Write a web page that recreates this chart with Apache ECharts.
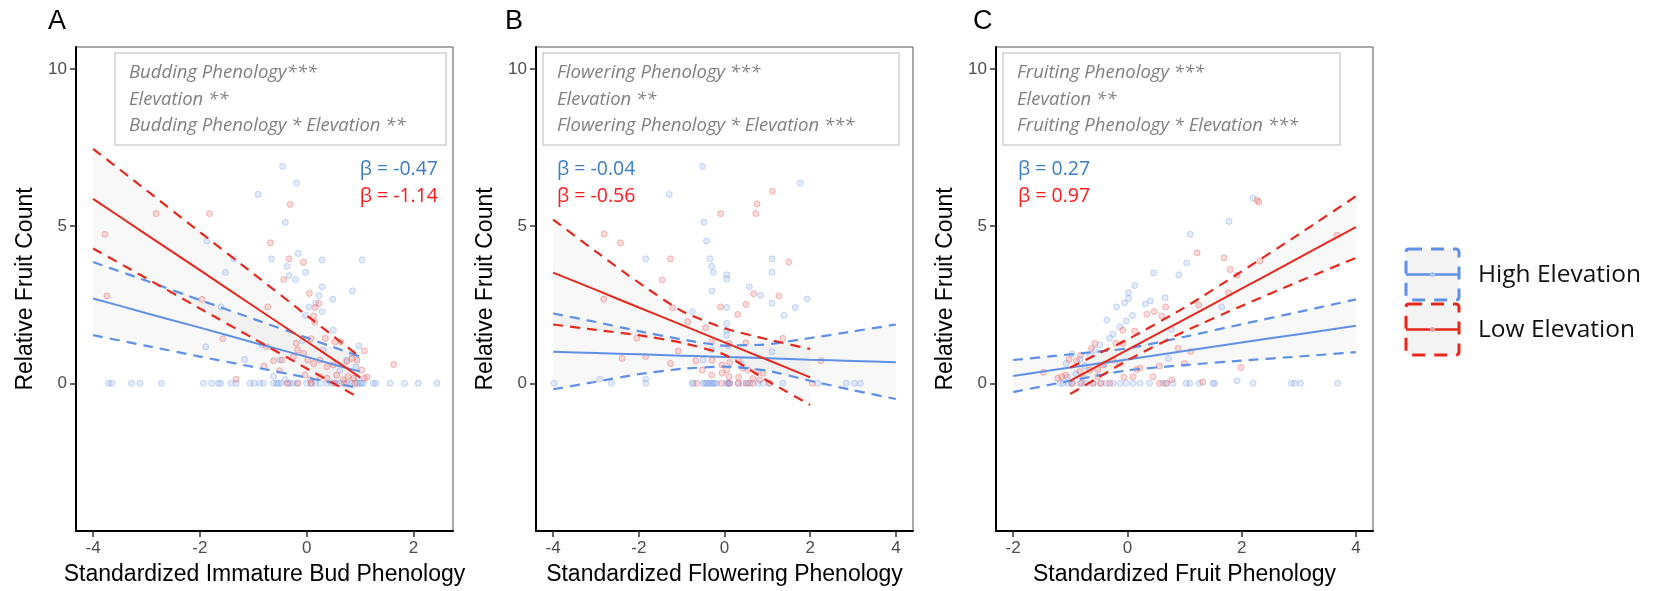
<!DOCTYPE html>
<html><head><meta charset="utf-8">
<script src="https://cdn.jsdelivr.net/npm/echarts@6/dist/echarts.min.js"></script>
<style>html,body{margin:0;padding:0;background:#fff}#c{width:1654px;height:591px}</style>
</head><body><div id="c"></div>
<script>
// ---------------- DATA ----------------
const panelLetters = ['A', 'B', 'C'];
const xTitles = ['Standardized Immature Bud Phenology', 'Standardized Flowering Phenology', 'Standardized Fruit Phenology'];
const yTitle = 'Relative Fruit Count';
const xTicksA = [-4, -2, 0, 2];
const xTicksB = [-4, -2, 0, 2, 4];
const xTicksC = [-2, 0, 2, 4];
const yTicks = [0, 5, 10];
const annA = ['Budding Phenology***', 'Elevation **', 'Budding Phenology * Elevation **'];
const annB = ['Flowering Phenology ***', 'Elevation **', 'Flowering Phenology * Elevation ***'];
const annC = ['Fruiting Phenology ***', 'Elevation **', 'Fruiting Phenology * Elevation ***'];
const betaHigh = ['β = -0.47', 'β = -0.04', 'β = 0.27'];
const betaLow = ['β = -1.14', 'β = -0.56', 'β = 0.97'];
const legendNames = ['High Elevation', 'Low Elevation'];

// Panel A fitted lines + confidence limits
const aX = [-4, -3, -2, -1, 0, 0.5, 1];
const aHighFit = [2.70, 2.23, 1.77, 1.30, 0.84, 0.60, 0.37];
const aHighUp = [3.86, 3.26, 2.65, 2.05, 1.45, 1.15, 0.85];
const aHighLo = [1.53, 1.19, 0.85, 0.52, 0.18, 0.01, -0.16];
const aLowFit = [5.87, 4.73, 3.60, 2.46, 1.33, 0.76, 0.19];
const aLowUp = [7.46, 6.14, 4.81, 3.49, 2.16, 1.50, 0.84];
const aLowLo = [4.29, 3.34, 2.38, 1.43, 0.47, 0.00, -0.48];
// Panel B
const bHighX = [-4, -3, -2, -1, 0, 1, 2, 3, 4];
const bHighFit = [1.00, 0.96, 0.92, 0.88, 0.84, 0.80, 0.75, 0.71, 0.67];
const bHighUp = [2.22, 1.95, 1.66, 1.40, 1.20, 1.24, 1.44, 1.65, 1.87];
const bHighLo = [-0.19, 0.05, 0.29, 0.46, 0.53, 0.40, 0.08, -0.22, -0.50];
const bLowX = [-4, -3, -2, -1, 0, 1, 2];
const bLowFit = [3.52, 2.97, 2.41, 1.86, 1.30, 0.75, 0.19];
const bLowUp = [5.21, 4.19, 3.20, 2.30, 1.75, 1.40, 1.09];
const bLowLo = [1.87, 1.70, 1.53, 1.29, 0.91, 0.08, -0.69];
// Panel C
const cHighX = [-2, -1, 0, 1, 2, 3, 4];
const cHighFit = [0.23, 0.50, 0.76, 1.03, 1.30, 1.56, 1.83];
const cHighUp = [0.74, 0.92, 1.11, 1.48, 1.88, 2.27, 2.67];
const cHighLo = [-0.28, 0.08, 0.41, 0.58, 0.72, 0.85, 0.99];
const cLowX = [-1, -0.5, 0, 1, 2, 3, 4];
const cLowFit = [0.08, 0.57, 1.06, 2.03, 3.01, 3.99, 4.97];
const cLowUp = [0.50, 0.95, 1.39, 2.41, 3.56, 4.74, 5.95];
const cLowLo = [-0.34, 0.19, 0.73, 1.65, 2.46, 3.24, 3.99];

// Scatter points [x, y]
const aHighPts = [[-0.45,6.90],[-0.19,6.37],[-0.91,6.01],[-0.40,5.12],[-1.87,4.53],[-1.36,3.96],[-0.66,3.96],[-0.16,4.13],[0.29,3.93],[1.04,3.93],[-0.37,3.72],[-1.52,3.53],[-0.33,3.43],[-0.02,3.53],[-0.21,3.30],[0.29,3.07],[0.86,2.94],[0.23,2.79],[0.49,2.67],[0.17,2.54],[0.04,2.43],[-1.60,2.43],[0.29,2.28],[-0.02,2.16],[-1.89,1.16],[-1.16,0.76],[-0.84,1.22],[-0.50,0.74],[-0.08,1.35],[0.31,1.06],[0.75,0.74],[0.98,1.19],[0.50,1.69],[0.85,0.95],[0.92,0.52],[0.62,0.40],[0.96,0.18],[-0.62,0.22],[-0.40,0.12],
  [-3.71,0],[-3.65,0],[-3.28,0],[-3.12,0],[-2.72,0],[-1.93,0],[-1.78,0],[-1.65,0],[-1.61,0],[-1.42,0],[-1.32,0],[-1.06,0],[-0.98,0],[-0.88,0],[-0.81,0],[-0.62,0],[-0.56,0],[-0.53,0],[-0.48,0],[-0.36,0],[-0.31,0],[-0.25,0],[-0.17,0],[0.0,0],[0.09,0],[0.16,0],[0.25,0],[0.38,0],[0.47,0],[0.56,0],[0.63,0],[0.75,0],[0.84,0],[0.94,0],[1.0,0],[1.03,0],[1.06,0],[1.25,0],[1.29,0],[1.56,0],[1.83,0],[2.09,0],[2.44,0]];
const aLowPts = [[-0.31,5.69],[-1.82,5.40],[-2.82,5.40],[-3.78,4.74],[-0.68,4.47],[-0.33,3.96],[-0.06,3.85],[-0.43,3.30],[-3.74,2.78],[0.05,2.86],[-1.96,2.67],[0.23,2.54],[0.16,2.41],[0.13,2.14],[0.15,1.95],[-0.73,2.43],[-1.57,1.42],[0.08,1.42],[0.35,1.43],[0.53,1.32],[0.64,1.32],[-0.75,1.16],[-0.20,1.27],[-0.17,1.06],[-0.06,0.95],[-0.46,0.74],[-0.62,0.72],[-0.25,0.85],[0.02,0.74],[0.13,0.63],[0.25,0.74],[0.38,0.53],[0.50,0.58],[0.75,0.69],[0.85,0.79],[0.94,0.74],[1.08,1.03],[1.63,0.60],[-0.51,0.40],[-0.03,0.26],[0.07,0.11],[0.25,0.21],[0.38,0.16],[0.56,0.26],[0.69,0.11],[0.78,0.21],[0.88,0.16],[1.03,0.42],[1.08,0.16],[1.13,0.19],[-1.32,0.13],[-0.80,0.55],
  [-0.36,0],[-0.17,0],[0.08,0],[0.52,0],[0.70,0],[0.90,0]];
const bHighPts = [[-0.51,6.90],[1.77,6.37],[-1.29,6.01],[-0.48,5.12],[-0.42,4.53],[-1.84,3.96],[-0.34,3.96],[1.11,3.96],[-0.30,3.72],[-0.26,3.53],[1.11,3.53],[0.05,3.45],[0.05,3.32],[-0.29,2.94],[0.58,3.07],[0.84,2.80],[1.11,2.55],[1.93,2.68],[1.65,2.41],[0.05,2.41],[1.39,2.16],[0.05,1.90],[0.05,1.69],[0.05,1.53],[-0.75,2.28],[1.11,1.00],[-2.91,0.13],[-1.84,0.13],[-0.50,0.74],[-0.30,1.06],[0.09,1.19],[0.40,0.60],
  [-3.98,0],[-2.64,0],[-1.84,0],[-0.75,0],[-0.73,0],[-0.50,0],[-0.46,0],[-0.42,0],[-0.38,0],[-0.34,0],[-0.30,0],[-0.26,0],[-0.23,0],[-0.19,0],[0.05,0],[0.08,0],[0.10,0],[0.12,0],[0.32,0],[0.43,0],[0.55,0],[0.59,0],[0.78,0],[0.90,0],[1.05,0],[1.36,0],[2.18,0],[2.84,0],[3.03,0],[3.17,0]];
const bLowPts = [[1.12,6.11],[0.76,5.71],[-0.09,5.40],[0.73,5.40],[-2.81,4.75],[-2.43,4.47],[-1.26,3.96],[1.50,3.86],[-1.46,3.29],[0.68,2.85],[1.27,2.78],[-2.82,2.68],[0.50,2.51],[-0.09,2.43],[0.31,2.19],[-1.21,2.40],[-0.86,1.96],[-0.44,1.77],[-2.05,1.43],[-0.30,1.32],[0.11,1.27],[0.50,1.29],[1.36,1.43],[-1.08,1.03],[-2.39,0.79],[-1.84,0.85],[-0.67,0.72],[-1.26,0.63],[-0.29,0.74],[-0.06,0.58],[0.12,0.66],[0.32,0.74],[0.43,0.48],[0.55,0.42],[0.74,0.37],[0.90,0.32],[2.25,0.72],[0.05,0.42],[-0.06,0.32],[0.11,0.21],[0.33,0.19],[0.66,0.15],[0.82,0.11],[-0.30,0.26],[-0.52,0.42],
  [-0.65,0],[-0.07,0],[0.12,0],[0.32,0],[0.51,0],[0.66,0],[1.05,0],[2.05,0]];
const cHighPts = [[2.20,5.89],[1.78,5.15],[1.10,4.74],[1.04,3.83],[0.46,3.51],[0.90,3.45],[0.13,3.11],[0.02,2.88],[0.02,2.70],[-0.05,2.56],[-0.19,2.43],[0.31,2.52],[0.40,2.62],[0.66,2.72],[1.65,2.43],[0.09,2.16],[-0.02,1.98],[-0.36,2.01],[-0.13,1.80],[-0.25,1.57],[-0.31,1.43],[-0.48,1.22],[-0.57,1.06],[-0.66,0.90],[-0.83,0.76],[-0.97,0.93],[-1.07,0.63],[0.77,1.71],[0.72,0.79],[1.92,0.08],[-0.75,0.55],[-0.40,0.62],[-0.90,0.30],[-1.05,0.20],
  [-1.18,0],[-1.13,0],[-1.04,0],[-0.98,0],[-0.83,0],[-0.72,0],[-0.60,0],[-0.48,0],[-0.37,0],[-0.25,0],[-0.13,0],[-0.02,0],[0.10,0],[0.22,0],[0.39,0],[0.62,0],[0.68,0],[0.80,0],[1.03,0],[1.09,0],[1.26,0],[1.50,0],[1.53,0],[2.20,0],[2.87,0],[2.93,0],[3.03,0],[3.68,0]];
const cLowPts = [[2.30,5.77],[2.27,5.82],[3.67,4.71],[1.22,4.15],[1.69,3.99],[1.80,3.62],[1.92,3.44],[2.32,3.89],[1.77,2.88],[1.25,2.49],[0.67,2.43],[0.47,2.28],[0.34,2.20],[0.60,2.14],[0.13,1.66],[-0.08,1.69],[-0.20,1.27],[-0.08,1.27],[-0.57,1.27],[-0.63,1.11],[-0.82,0.90],[-0.89,0.71],[-1.02,0.76],[0.89,1.11],[1.11,1.01],[1.00,0.63],[0.56,0.55],[0.22,0.48],[0.16,0.44],[-0.13,0.63],[-0.25,0.74],[-0.43,0.58],[-0.52,0.44],[-0.66,0.42],[-0.83,0.37],[-1.22,0.16],[-1.15,0.21],[-1.08,0.26],[-1.47,0.35],[1.99,0.50],[-0.06,0.19],[0.10,0.21],[0.45,0.21],[0.78,0.11],[1.32,0.04],[-0.78,0.21],[-0.52,0.21],
  [-0.96,0],[-0.80,0],[-0.60,0],[-0.46,0],[-0.31,0],[0.56,0],[0.68,0]];

// ---------------- CHART ----------------
const BLUE = '#5f90e8', RED = '#e5281b';
const FONT = '"Liberation Sans", Arial, sans-serif';
const OPEN = '"Open Sans", sans-serif';
const zip = (xs, ys) => xs.map((x, k) => [x, ys[k]]);

const panels = [
  {left: 76, xmin: -4.32, xmax: 2.74, ticks: xTicksA,
   high: {x: aX, fit: aHighFit, up: aHighUp, lo: aHighLo, pts: aHighPts},
   low: {x: aX, fit: aLowFit, up: aLowUp, lo: aLowLo, pts: aLowPts}},
  {left: 536, xmin: -4.4, xmax: 4.4, ticks: xTicksB,
   high: {x: bHighX, fit: bHighFit, up: bHighUp, lo: bHighLo, pts: bHighPts},
   low: {x: bLowX, fit: bLowFit, up: bLowUp, lo: bLowLo, pts: bLowPts}},
  {left: 996, xmin: -2.3, xmax: 4.3, ticks: xTicksC,
   high: {x: cHighX, fit: cHighFit, up: cHighUp, lo: cHighLo, pts: cHighPts},
   low: {x: cLowX, fit: cLowFit, up: cLowUp, lo: cLowLo, pts: cLowPts}}
];

const grid = [], xAxis = [], yAxis = [], series = [];
panels.forEach((p, i) => {
  grid.push({left: p.left, top: 47, width: 377, height: 485, show: true, borderColor: '#555', borderWidth: 1, backgroundColor: 'transparent'});
  xAxis.push({gridIndex: i, type: 'value', min: p.xmin, max: p.xmax,
    name: xTitles[i], nameLocation: 'middle', nameGap: 32,
    nameTextStyle: {fontSize: 23, color: '#000', fontFamily: FONT},
    axisLine: {show: true, onZero: false, lineStyle: {color: '#000', width: 2}},
    axisTick: {show: true, customValues: p.ticks, length: 6, lineStyle: {color: '#333', width: 1.5}},
    axisLabel: {customValues: p.ticks, margin: 9, fontSize: 17, color: '#4d4d4d', fontFamily: FONT},
    splitLine: {show: false}});
  yAxis.push({gridIndex: i, type: 'value', min: -4.7, max: 10.7,
    name: yTitle, nameLocation: 'middle', nameGap: 39, nameRotate: 90,
    nameTextStyle: {fontSize: 23, color: '#000', fontFamily: FONT},
    axisLine: {show: true, onZero: false, lineStyle: {color: '#000', width: 2}},
    axisTick: {show: true, customValues: yTicks, length: 6, lineStyle: {color: '#333', width: 1.5}},
    axisLabel: {customValues: yTicks, margin: 9, fontSize: 17, color: '#4d4d4d', fontFamily: FONT},
    splitLine: {show: false}});

  [['high', BLUE, 'rgba(150,180,238,0.32)', 'rgba(110,150,230,0.45)'],
   ['low', RED, 'rgba(240,120,120,0.32)', 'rgba(230,90,90,0.5)']].forEach(([key, col, fill, border]) => {
    const g = p[key];
    series.push({type: 'custom', xAxisIndex: i, yAxisIndex: i, silent: true, z: 1,
      data: [[g.x[0], g.fit[0]]],
      renderItem: (params, api) => {
        const top = g.x.map((x, k) => api.coord([x, g.up[k]]));
        const bot = g.x.map((x, k) => api.coord([x, g.lo[k]])).reverse();
        return {type: 'polygon', shape: {points: top.concat(bot)}, style: {fill: 'rgba(0,0,0,0.028)'}};
      }});
    series.push({type: 'scatter', xAxisIndex: i, yAxisIndex: i, z: 2, symbolSize: 6, silent: true,
      data: g.pts, itemStyle: {color: fill, borderColor: border, borderWidth: 1}});
    series.push({type: 'line', xAxisIndex: i, yAxisIndex: i, z: 3, showSymbol: false, silent: true, smooth: 0.2,
      data: zip(g.x, g.fit), lineStyle: {color: col, width: 2}});
    [g.up, g.lo].forEach(arr => series.push({type: 'line', xAxisIndex: i, yAxisIndex: i, z: 3, showSymbol: false, silent: true, smooth: 0.2,
      data: zip(g.x, arr), lineStyle: {color: col, width: 2.2, type: [10, 7]}}));
  });
});

// graphics: panel letters, annotation boxes, beta labels, legend
const graphic = [];
const letterX = [48, 505, 973];
panelLetters.forEach((L, i) => graphic.push({type: 'text', x: letterX[i], y: 22,
  style: {text: L, fontSize: 27, fontFamily: FONT, fill: '#000', verticalAlign: 'middle'}}));
const boxes = [{x: 115, w: 331, t: annA}, {x: 543, w: 356, t: annB}, {x: 1003, w: 337, t: annC}];
boxes.forEach(b => {
  graphic.push({type: 'rect', shape: {x: b.x, y: 53, width: b.w, height: 92},
    style: {fill: '#fff', stroke: '#cfcfcf', lineWidth: 1.5}, z: 50});
  b.t.forEach((s, k) => graphic.push({type: 'text', x: b.x + 14, y: 73 + k * 26.5, z: 51,
    style: {text: s, fontSize: 18.5, fontStyle: 'italic', fontFamily: OPEN, fill: '#7f7f7f', verticalAlign: 'middle'}}));
});
const betaPos = [{x: 438, align: 'right'}, {x: 557, align: 'left'}, {x: 1018, align: 'left'}];
betaPos.forEach((b, i) => {
  graphic.push({type: 'text', x: b.x, y: 169.5, z: 51, style: {text: betaHigh[i], fontSize: 19.5, fontFamily: OPEN, fill: '#3b7dc4', align: b.align, verticalAlign: 'middle'}});
  graphic.push({type: 'text', x: b.x, y: 196.5, z: 51, style: {text: betaLow[i], fontSize: 19.5, fontFamily: OPEN, fill: '#ff1a1a', align: b.align, verticalAlign: 'middle'}});
});
[[BLUE, 249, '#a9c3f2'], [RED, 304, '#f2a3a0']].forEach(([col, y, dot], k) => {
  graphic.push({type: 'rect', shape: {x: 1406, y: y, width: 53, height: 51, r: 3},
    style: {fill: '#f3f3f3', stroke: col, lineWidth: 3, lineDash: [13, 9]}});
  graphic.push({type: 'line', shape: {x1: 1406, y1: y + 25.5, x2: 1459, y2: y + 25.5}, style: {stroke: col, lineWidth: 2.5}});
  graphic.push({type: 'circle', shape: {cx: 1432.5, cy: y + 25.5, r: 2.5}, style: {fill: dot}});
  graphic.push({type: 'text', x: 1478, y: y + 26, style: {text: legendNames[k], fontSize: 24.5, fontFamily: OPEN, fill: '#111', verticalAlign: 'middle'}});
});

const chart = echarts.init(document.getElementById('c'));
chart.setOption({animation: false, backgroundColor: '#fff', grid, xAxis, yAxis, series, graphic});
</script></body></html>
